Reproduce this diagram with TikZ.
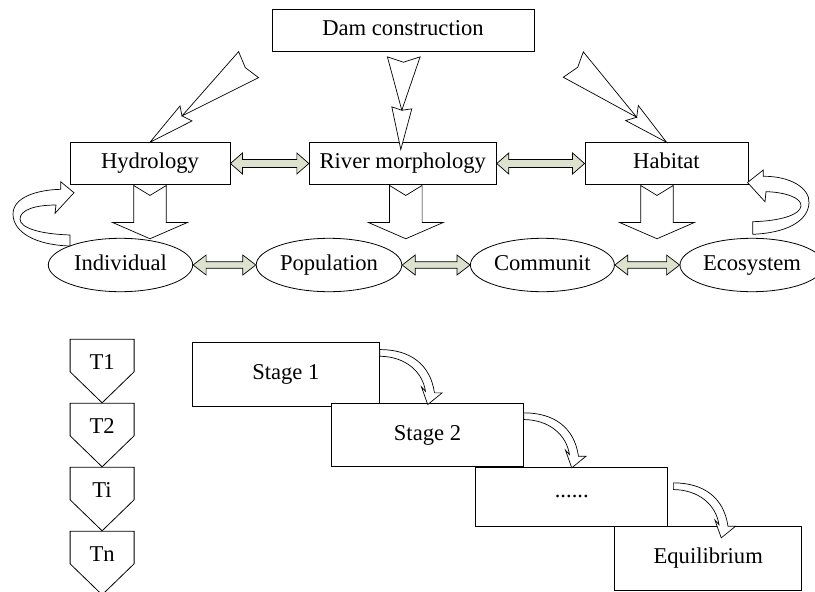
\documentclass[tikz,border=0pt]{standalone}
\usepackage{fontspec}
\setmainfont{Liberation Serif}
\usetikzlibrary{shapes.geometric,calc}
\definecolor{dblfill}{RGB}{221,226,206}
\tikzset{
  box/.style={draw=black, line width=0.9pt, fill=white, inner sep=0pt, text height=15pt, text depth=4.5pt},
  dotbox/.style={draw=black, line width=0.9pt, fill=white, inner sep=0pt},
  oval/.style={ellipse, draw=black, line width=0.8pt, fill=white, inner sep=0pt,
    minimum width=144pt, minimum height=53.4pt, text height=15pt, text depth=3.5pt},
  blk/.style={draw=black, line width=0.7pt, fill=white, line join=miter},
  dbl/.style={draw=black, line width=0.7pt, fill=dblfill},
  pent/.style={draw=black, line width=0.8pt},
  lbl/.style={inner sep=0pt, text height=15pt, text depth=4.5pt}
}
% double block arrow: tips #1 (left) and #2 (right); head length #3, head half #4, shaft half #5
\newcommand{\dblarrow}[5]{%
  \draw[dbl] (#1) -- ++(#3,-#4) -- ++(0,{#4-#5}) -- ($(#2)+(-#3,-#5)$) -- ++(0,{#5-#4})
    -- (#2) -- ++(-#3,#4) -- ++(0,{#5-#4}) -- ($(#1)+(#3,#5)$) -- ++(0,{#4-#5}) -- cycle;}
% notched down block arrow from top centre #1
\newcommand{\blkdown}[1]{%
  \draw[blk] ($(#1)+(-16.3,0)$) -- ++(16.3,10) -- ++(16.3,-10) -- ++(0,37) -- ++(21.2,0)
    -- ++(-37.5,16.3) -- ++(-37.5,-16.3) -- ++(21.2,0) -- cycle;}
% curved ribbon arrow starting at #1
\newcommand{\ribbon}[1]{%
  \begin{scope}[shift={(#1)}]
  \draw[blk] (0,0) .. controls (30.6,0) and (50.6,15) .. (54.6,43.3) -- (62.3,43.3)
    -- (47.9,55) -- (41.6,37.3) -- (45.6,41.7) .. controls (42.6,22) and (25.6,7) .. (0,6.7) -- cycle;
  \end{scope}}
% pentagon with top-left at #1
\newcommand{\tpent}[1]{%
  \draw[pent] (#1) -- ++(64,0) -- ++(0,32.5) -- ++(-32,31) -- ++(-32,-31) -- cycle;}

\begin{document}
\begin{tikzpicture}[x=1pt,y=-1pt,font=\fontsize{22.6}{26}\selectfont]
\useasboundingbox (0,0) rectangle (815,592);
\clip (0,0) rectangle (815,592);

% top boxes
\node[box, minimum width=262pt, minimum height=41.6pt] (dam) at (403,30.3) {Dam construction};
\node[box, minimum width=160pt, minimum height=41.6pt] (hyd) at (150,163.5) {Hydrology};
\node[box, minimum width=187pt, minimum height=41.6pt] (riv) at (402.8,163.5) {River morphology};
\node[box, minimum width=163pt, minimum height=41.6pt] (hab) at (666.5,163.5) {Habitat};

% ellipses
\node[oval, minimum width=144.4pt] (ind) at (120.5,265) {Individual};
\node[oval, minimum width=145.6pt] (pop) at (329,265) {Population};
\node[oval] (com) at (542.4,265) {Communit};
\node[oval] (eco) at (752,265) {Ecosystem};

% stage boxes
\node[box, minimum width=187.1pt, minimum height=63.3pt] (s1) at (285.85,374.35) {Stage 1};
\node[box, minimum width=191.8pt, minimum height=63.4pt] (s2) at (427.5,435) {Stage 2};
\node[dotbox, minimum width=192.3pt, minimum height=58.7pt] (s3) at (571.75,496.65) {......};
\node[box, minimum width=186.6pt, minimum height=63.3pt] (s4) at (708.2,558.35) {Equilibrium};

% time pentagons
\tpent{70.1,339.3}
\tpent{70.1,403.3}
\tpent{70.1,467.3}
\tpent{70.1,531.3}
\node[lbl] (t1) at (102.1,364.5) {T1};
\node[lbl] (t2) at (102.1,428.5) {T2};
\node[lbl] (ti) at (102.1,492.5) {Ti};
\node[lbl] (tn) at (102.1,556.5) {Tn};

% double arrows
\dblarrow{hyd.east}{riv.west}{12}{10.5}{4}
\dblarrow{riv.east}{hab.west}{12}{10.5}{4}
\dblarrow{ind.east}{pop.west}{13}{10}{3.3}
\dblarrow{pop.east}{com.west}{13}{10}{3.3}
\dblarrow{com.east}{eco.west}{13}{10}{3.3}

% down block arrows
\blkdown{$(hyd.south)+(0,0.7)$}
\blkdown{$(riv.south)+(3,0.7)$}
\blkdown{$(hab.south)+(-9.5,0.7)$}

% arrows from Dam construction
\begin{scope}[shift={(hyd.north)}]
  \draw[blk] (0,0) -- (42,-21.3) -- (32,-26.3) -- (108.6,-64.6) -- (95.3,-74.6)
    -- (88.6,-90.6) -- (32,-26.3) -- (30,-36.3) -- cycle;
\end{scope}
\begin{scope}[shift={($(riv.north)+(-2,7.3)$)}]
  \draw[blk] (0,0) -- (11,-40.7) -- (1,-39.3) -- (19.3,-92.7) -- (2.6,-87.3)
    -- (-13.4,-92.7) -- (1,-39.3) -- (-9,-42.7) -- cycle;
\end{scope}
\begin{scope}[shift={(hab.north)}]
  \draw[blk] (0,0) -- (-28.2,-36.7) -- (-29.8,-25) -- (-83.2,-90.4) -- (-88.8,-75)
    -- (-103.2,-65) -- (-29.8,-25) -- (-40.8,-21.7) -- cycle;
\end{scope}

% loop arrows
\draw[blk] (74,192.7) -- (60.7,181.7) -- (60.7,189.3)
  .. controls (35,190) and (13,198) .. (13,214)
  .. controls (13,232) and (35,245) .. (70,246) -- (70,235)
  .. controls (40,234) and (20,228) .. (20,219)
  .. controls (20,210) and (35,205) .. (56,205) -- (55,213.3) -- cycle;
\draw[blk] (747.5,182.5) -- (763.3,170) -- (763.3,176.3)
  .. controls (790,176) and (810,188) .. (809,203)
  .. controls (808,222) and (785,233) .. (752.7,234.3) -- (752.7,221.7)
  .. controls (780,221) and (800,215) .. (801,206)
  .. controls (802,198) and (785,192) .. (766,191.7) -- (765,201.7) -- cycle;

% stage ribbons
\coordinate (r1) at ($(s1.north east)+(0,7.3)$);
\coordinate (r2) at ($(s2.north east)+(0,10)$);
\coordinate (r3) at ($(s3.north east)+(5,16)$);
\ribbon{r1}
\ribbon{r2}
\ribbon{r3}
\end{tikzpicture}
\end{document}
